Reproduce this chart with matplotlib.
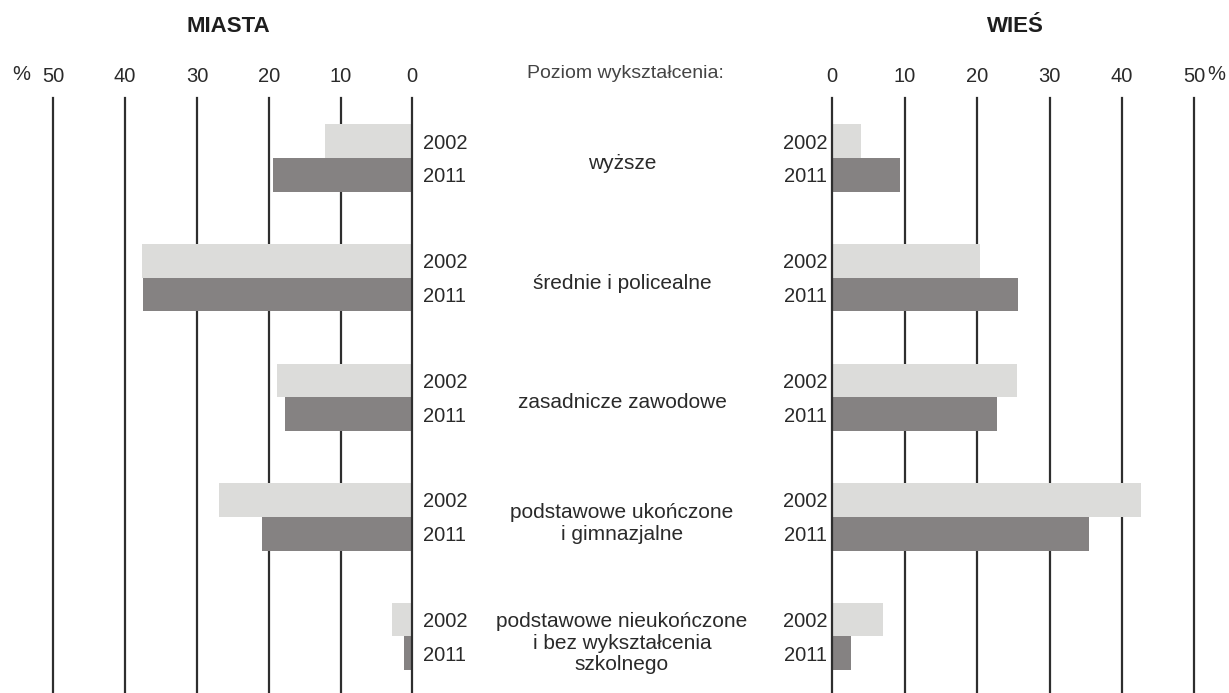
import matplotlib
matplotlib.use("Agg")
import matplotlib.pyplot as plt

plt.rcParams['font.family'] = ['Liberation Sans', 'DejaVu Sans']

categories = ['wyższe', 'średnie i policealne', 'zasadnicze zawodowe',
              'podstawowe ukończone\ni gimnazjalne',
              'podstawowe nieukończone\ni bez wykształcenia\nszkolnego']
years = ['2002', '2011']
miasta_2002 = [12.2, 37.7, 18.9, 26.9, 2.8]
miasta_2011 = [19.4, 37.5, 17.7, 21.0, 1.1]
wies_2002 = [4.0, 20.4, 25.5, 42.6, 7.0]
wies_2011 = [9.3, 25.6, 22.7, 35.4, 2.6]
ticks = [0, 10, 20, 30, 40, 50]

light = '#dcdcda'
dark = '#858282'
line_col = '#2e2e2e'
txt_col = '#2a2a2a'
fs = 14.5

W, H = 1229, 693
fig = plt.figure(figsize=(W / 100, H / 100), dpi=100)
top = (H - 98) / H
ax_l = fig.add_axes([53.3 / W, 0, 359.0 / W, top])
ax_r = fig.add_axes([832.3 / W, 0, 362.0 / W, top])

h = 0.282
pos = list(range(len(categories)))
y02 = [p - h / 2 for p in pos]
y11 = [p + h / 2 for p in pos]

for ax, v02, v11, xlim in [(ax_l, miasta_2002, miasta_2011, (50, 0)),
                           (ax_r, wies_2002, wies_2011, (0, 50))]:
    for t in ticks:
        ax.axvline(t, color=line_col, lw=1.6, zorder=3 if t == 0 else 1, clip_on=False)
    ax.barh(y02, v02, height=h, color=light, zorder=2)
    ax.barh(y11, v11, height=h, color=dark, zorder=2)
    ax.set_xlim(*xlim)
    ax.set_ylim(4.473, -0.502)
    ax.xaxis.tick_top()
    ax.set_xticks(ticks)
    ax.set_xticklabels([str(t) for t in ticks])
    ax.tick_params(axis='x', length=0, pad=9, labelsize=fs, labelcolor=txt_col)
    ax.set_yticks([])
    for s in ax.spines.values():
        s.set_visible(False)

# year labels next to the zero lines
for i in pos:
    ax_l.text(-1.5, y02[i], years[0], ha='left', va='center_baseline', fontsize=fs, color=txt_col)
    ax_l.text(-1.5, y11[i], years[1], ha='left', va='center_baseline', fontsize=fs, color=txt_col)
    ax_r.text(-0.7, y02[i], years[0], ha='right', va='center_baseline', fontsize=fs, color=txt_col)
    ax_r.text(-0.7, y11[i], years[1], ha='right', va='center_baseline', fontsize=fs, color=txt_col)

# category labels in the middle
for i, c in enumerate(categories):
    ax_l.text(-29.2, i + 0.03, c, ha='center', va='center_baseline', fontsize=15,
              color=txt_col, linespacing=1.15)

fig.text(625 / W, 1 - 74 / H, 'Poziom wykształcenia:', ha='center', va='center',
         fontsize=14, color='#444444')
fig.text(228 / W, 1 - 27 / H, 'MIASTA', ha='center', va='center',
         fontsize=16, fontweight='bold', color='#1e1e1e')
fig.text(1015 / W, 1 - 27 / H, 'WIEŚ', ha='center', va='center',
         fontsize=16, fontweight='bold', color='#1e1e1e')
fig.text(21 / W, 1 - 74 / H, '%', ha='center', va='center', fontsize=fs, color=txt_col)
fig.text(1207 / W, 1 - 74 / H, '%', ha='left', va='center', fontsize=fs, color=txt_col)

fig.savefig('out.png', dpi=100, facecolor='white')
